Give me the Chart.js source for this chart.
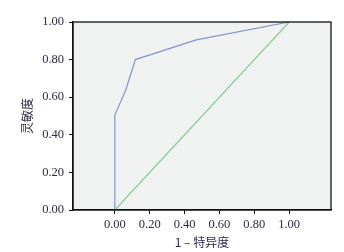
<!DOCTYPE html>
<html><head><meta charset="utf-8">
<script src="https://cdn.jsdelivr.net/npm/chart.js@4"></script>
<style>html,body{margin:0;padding:0;background:#fff}#w{width:344px;height:252px}</style>
</head><body><div id="w"><canvas id="c"></canvas></div>
<script>
const rocX = [0, 0, 0.063, 0.118, 0.467, 1];
const rocY = [0, 0.505, 0.64, 0.80, 0.905, 1];
const refX = [0, 1];
const refY = [0, 1];
const tickVals = [0, 0.2, 0.4, 0.6, 0.8, 1.0];
const xTitle = '1 – 特异度';
const yTitle = '灵敏度';

const serif = "'Liberation Serif','DejaVu Serif',serif";
const txtColor = '#2c2c44';

const bgPlugin = {
  id: 'bg',
  beforeDraw(chart) {
    const {ctx, chartArea: a} = chart;
    ctx.save(); ctx.fillStyle = '#f0f1f1';
    ctx.fillRect(a.left, a.top, a.right - a.left, a.bottom - a.top);
    ctx.restore();
  },
  afterDraw(chart) {
    const {ctx, chartArea: a} = chart;
    ctx.save(); ctx.strokeStyle = '#111'; ctx.lineWidth = 1.3;
    ctx.strokeRect(a.left, a.top, a.right - a.left, a.bottom - a.top);
    ctx.restore();
  }
};

new Chart(document.getElementById('c'), {
  type: 'scatter',
  data: {
    datasets: [
      { data: rocX.map((x, i) => ({x, y: rocY[i]})), showLine: true, borderColor: '#8894cc', borderWidth: 1.2, pointRadius: 0, tension: 0 },
      { data: refX.map((x, i) => ({x, y: refY[i]})), showLine: true, borderColor: '#86cc96', borderWidth: 1.2, pointRadius: 0, tension: 0 }
    ]
  },
  options: {
    responsive: true, maintainAspectRatio: false, animation: false,
    layout: { padding: { left: 0, top: 22, right: 13, bottom: 0 } },
    plugins: { legend: { display: false }, tooltip: { enabled: false } },
    scales: {
      x: {
        type: 'linear', min: -0.24, max: 1.24,
        afterBuildTicks(s) { s.ticks = tickVals.map(v => ({value: v})); },
        afterFit(s) { s.height = 42; },
        grid: { drawOnChartArea: false, drawTicks: true, tickLength: 4, color: '#111' },
        border: { display: true, color: '#111', width: 1.3 },
        ticks: { color: txtColor, font: { family: serif, size: 12.5 }, padding: 3, maxRotation: 0, callback: v => v.toFixed(2) },
        title: { display: true, text: xTitle, color: txtColor, font: { family: "'Noto Sans CJK SC', serif", size: 12 }, padding: { top: 0, bottom: 2 } }
      },
      y: {
        type: 'linear', min: 0, max: 1,
        afterBuildTicks(s) { s.ticks = tickVals.map(v => ({value: v})); },
        afterFit(s) { s.width = 73; },
        grid: { drawOnChartArea: false, drawTicks: true, tickLength: 4, color: '#111' },
        border: { display: true, color: '#111', width: 1.3 },
        ticks: { color: txtColor, font: { family: serif, size: 12.5 }, padding: 5, callback: v => v.toFixed(2) },
        title: { display: true, text: yTitle, color: txtColor, font: { family: "'Noto Sans CJK SC', serif", size: 12 }, padding: { top: 20, bottom: 0 } }
      }
    }
  },
  plugins: [bgPlugin]
});
</script></body></html>
